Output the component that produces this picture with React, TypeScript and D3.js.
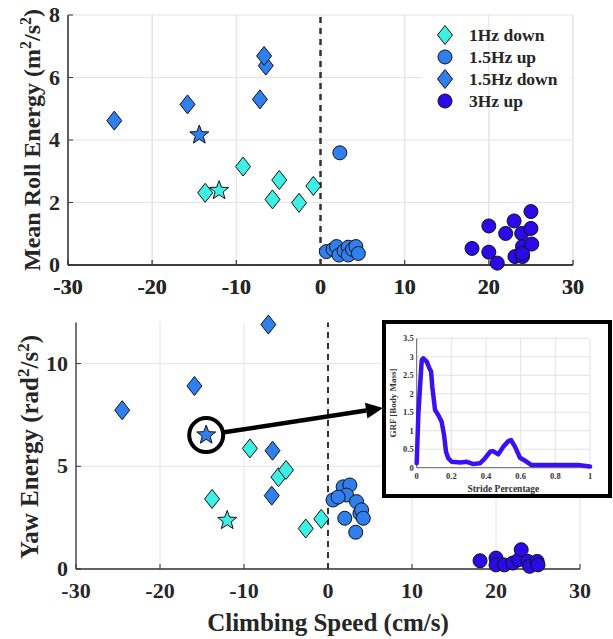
import React from 'react'
import * as d3 from 'd3'

// climbing speed ticks and energy ticks
const xTicks = [-30, -20, -10, 0, 10, 20, 30]
const rollTicks = [0, 2, 4, 6, 8]
const yawTicks = [0, 5, 10]
const grfXTicks = [0, 0.2, 0.4, 0.6, 0.8, 1]
const grfYTicks = [0, 0.5, 1, 1.5, 2, 2.5, 3, 3.5]

const legendLabels = ['1Hz down', '1.5Hz up', '1.5Hz down', '3Hz up']

// mean roll energy (top)
const roll1HzDown = [[-13.7, 2.31], [-9.2, 3.15], [-4.9, 2.72], [-5.7, 2.1], [-2.55, 1.99], [-0.85, 2.53]]
const roll1HzDownStar = [-12.05, 2.38]
const roll15Up = [[2.3, 3.59], [0.7, 0.43], [1.5, 0.5], [1.9, 0.59], [2.2, 0.32], [2.8, 0.45], [3.3, 0.57], [3.3, 0.32], [3.8, 0.5], [4.2, 0.59], [4.5, 0.37]]
const roll15Down = [[-24.5, 4.62], [-15.8, 5.14], [-6.5, 6.38], [-6.7, 6.69], [-7.2, 5.3]]
const roll15DownStar = [-14.4, 4.16]
const roll3Up = [[18.0, 0.53], [20.0, 1.25], [20.0, 0.41], [21.0, 0.06], [22.0, 1.01], [23.0, 1.41], [23.9, 1.01], [23.1, 0.27], [24.0, 0.59], [24.0, 0.27], [24.0, 0.37], [25.0, 1.71], [25.0, 1.17], [25.1, 0.67]]

// yaw energy (bottom)
const yaw1HzDown = [[-9.3, 5.87], [-5.9, 4.47], [-5.0, 4.82], [-13.8, 3.41], [-2.65, 1.97], [-0.8, 2.44]]
const yaw1HzDownStar = [-12.0, 2.36]
const yaw15Up = [[1.8, 4.0], [2.6, 4.09], [0.6, 3.36], [2.2, 3.6], [3.4, 3.28], [3.8, 2.7], [4.0, 2.88], [4.2, 2.47], [2.0, 2.47], [3.3, 1.79], [1.2, 3.5]]
const yaw15Down = [[-24.5, 7.73], [-15.9, 8.91], [-7.1, 11.9], [-6.6, 5.76], [-6.7, 3.57]]
const yaw15DownStar = [-14.5, 6.52]
const yaw3Up = [[18.1, 0.4], [20.0, 0.53], [20.0, 0.2], [21.0, 0.2], [22.0, 0.29], [22.7, 0.45], [23.0, 0.94], [23.8, 0.37], [24.0, 0.13], [24.9, 0.37], [25.0, 0.2]]

// inset: ground reaction force over one stride
const grfX = [0, 0.01, 0.029, 0.038, 0.058, 0.073, 0.083, 0.09, 0.106, 0.125, 0.144, 0.158, 0.169, 0.183, 0.202, 0.25, 0.29, 0.327, 0.365, 0.394, 0.423, 0.44, 0.471, 0.5, 0.529, 0.544, 0.567, 0.596, 0.635, 0.663, 0.75, 0.94, 1.0]
const grfY = [0.12, 1.5, 2.91, 2.96, 2.87, 2.69, 2.6, 2.19, 1.56, 1.42, 1.24, 0.88, 0.43, 0.25, 0.16, 0.14, 0.16, 0.1, 0.12, 0.25, 0.43, 0.45, 0.36, 0.57, 0.72, 0.75, 0.57, 0.27, 0.16, 0.07, 0.07, 0.07, 0.03]

const cCyan = '#3cf0e6'
const cBlue = '#2f80ee'
const cPurple = '#2a0ae8'
const font = '"Liberation Serif", "Times New Roman", serif'

const diamond = (x, y) => `M${x},${y - 9.5}L${x + 7.5},${y}L${x},${y + 9.5}L${x - 7.5},${y}Z`
const star = (x, y) => {
  const pts = d3.range(10).map(i => {
    const r = i % 2 === 0 ? 10 : 4.2
    const a = -Math.PI / 2 + (i * Math.PI) / 5
    return [x + r * Math.cos(a), y + r * Math.sin(a)]
  })
  return 'M' + pts.map(p => p.join(',')).join('L') + 'Z'
}

const Marker = ({ kind, x, y, fill }) => {
  if (kind === 'circle') return <circle cx={x} cy={y} r={7} fill={fill} stroke="#111" strokeWidth={1} />
  if (kind === 'star') return <path d={star(x, y)} fill={fill} stroke="#111" strokeWidth={1} />
  return <path d={diamond(x, y)} fill={fill} stroke="#111" strokeWidth={1} />
}

const Panel = ({ x, y, yTicks, series, label }) => {
  const [x0, x1] = x.range()
  const [y0, y1] = y.range()
  return (
    <g>
      {xTicks.map(t => (
        <line key={'gx' + t} x1={x(t)} x2={x(t)} y1={y0} y2={y1} stroke="#e4e4e4" strokeWidth={1} />
      ))}
      {yTicks.map(t => (
        <line key={'gy' + t} x1={x0} x2={x1} y1={y(t)} y2={y(t)} stroke="#e4e4e4" strokeWidth={1} />
      ))}
      <line x1={x(0)} x2={x(0)} y1={y0} y2={y1} stroke="#333" strokeWidth={2} strokeDasharray="6,5" />
      <line x1={x0} x2={x1} y1={y0} y2={y0} stroke="#333" strokeWidth={1.3} />
      <line x1={x0} x2={x0} y1={y0} y2={y1} stroke="#333" strokeWidth={1.3} />
      {xTicks.map(t => (
        <g key={'tx' + t}>
          <line x1={x(t)} x2={x(t)} y1={y0} y2={y0 - 5} stroke="#333" />
          <text x={x(t)} y={y0 + 29} textAnchor="middle" fontSize={22} fontWeight="bold" fill="#262626">{t}</text>
        </g>
      ))}
      {yTicks.map(t => (
        <g key={'ty' + t}>
          <line x1={x0} x2={x0 + 5} y1={y(t)} y2={y(t)} stroke="#333" />
          <text x={x0 - 8} y={y(t) + 7} textAnchor="end" fontSize={22} fontWeight="bold" fill="#262626">{t}</text>
        </g>
      ))}
      {label}
      {series.map((s, si) =>
        s.data.map((d, i) => <Marker key={si + '-' + i} kind={s.kind} x={x(d[0])} y={y(d[1])} fill={s.fill} />)
      )}
    </g>
  )
}

export default function App() {
  const xTop = d3.scaleLinear().domain([-30, 30]).range([68, 573])
  const yTop = d3.scaleLinear().domain([0, 8]).range([265, 15])
  const xBot = d3.scaleLinear().domain([-30, 30]).range([76, 580])
  const yBot = d3.scaleLinear().domain([0, 12]).range([569, 322.5])

  const topSeries = [
    { data: roll1HzDown, kind: 'diamond', fill: cCyan },
    { data: roll15Up, kind: 'circle', fill: cBlue },
    { data: roll15Down, kind: 'diamond', fill: cBlue },
    { data: roll3Up, kind: 'circle', fill: cPurple },
    { data: [roll15DownStar], kind: 'star', fill: cBlue },
    { data: [roll1HzDownStar], kind: 'star', fill: cCyan },
  ]
  const botSeries = [
    { data: yaw1HzDown, kind: 'diamond', fill: cCyan },
    { data: yaw15Up, kind: 'circle', fill: cBlue },
    { data: yaw15Down, kind: 'diamond', fill: cBlue },
    { data: yaw3Up, kind: 'circle', fill: cPurple },
    { data: [yaw15DownStar], kind: 'star', fill: cBlue },
    { data: [yaw1HzDownStar], kind: 'star', fill: cCyan },
  ]
  const legendKinds = ['diamond', 'circle', 'diamond', 'circle']
  const legendFills = [cCyan, cBlue, cBlue, cPurple]

  // inset geometry
  const box = { x: 384, y: 322, w: 226, h: 174 }
  const gx = d3.scaleLinear().domain([0, 1]).range([416.7, 590])
  const gy = d3.scaleLinear().domain([0, 3.5]).range([467.7, 338.3])
  const grfLine = d3.line().x(i => gx(grfX[i])).y(i => gy(grfY[i])).curve(d3.curveLinear)

  // circled point and arrow
  const cx = xBot(yaw15DownStar[0])
  const cy = yBot(yaw15DownStar[1])
  const tip = [box.x - 1, 408]
  const ang = Math.atan2(tip[1] - cy, tip[0] - cx)
  const start = [cx + 18 * Math.cos(ang), cy + 18 * Math.sin(ang)]
  const headLen = 17
  const headW = 8
  const base = [tip[0] - headLen * Math.cos(ang), tip[1] - headLen * Math.sin(ang)]
  const head = [
    tip,
    [base[0] + headW * Math.sin(ang), base[1] - headW * Math.cos(ang)],
    [base[0] - headW * Math.sin(ang), base[1] + headW * Math.cos(ang)],
  ]

  return (
    <svg width={613} height={639} style={{ position: 'absolute', left: 0, top: 0, background: '#fff' }} fontFamily={font}>
      <Panel
        x={xTop}
        y={yTop}
        yTicks={rollTicks}
        series={[]}
        label={
          <text transform="translate(40,140) rotate(-90)" textAnchor="middle" fontSize={24} fontWeight="bold" fill="#262626">
            Mean Roll Energy (m<tspan fontSize={16} dy={-9}>2</tspan><tspan dy={9}>/s</tspan><tspan fontSize={16} dy={-9}>2</tspan><tspan dy={9}>)</tspan>
          </text>
        }
      />
      {/* legend background hides grid */}
      <rect x={422} y={16} width={148} height={94} fill="#fff" />
      <Panel x={xTop} y={yTop} yTicks={[]} series={topSeries} label={null} />
      {legendLabels.map((l, i) => (
        <g key={l}>
          <Marker kind={legendKinds[i]} x={445} y={35 + i * 22} fill={legendFills[i]} />
          <text x={469} y={41 + i * 22} fontSize={17.5} fontWeight="bold" fill="#262626">{l}</text>
        </g>
      ))}

      <Panel
        x={xBot}
        y={yBot}
        yTicks={yawTicks}
        series={botSeries}
        label={
          <g>
            <text transform="translate(38,447) rotate(-90)" textAnchor="middle" fontSize={25} fontWeight="bold" fill="#262626">
              Yaw Energy (rad<tspan fontSize={17} dy={-9}>2</tspan><tspan dy={9}>/s</tspan><tspan fontSize={17} dy={-9}>2</tspan><tspan dy={9}>)</tspan>
            </text>
            <text x={xBot(0)} y={631} textAnchor="middle" fontSize={25} fontWeight="bold" fill="#262626">Climbing Speed (cm/s)</text>
          </g>
        }
      />

      {/* annotation */}
      <circle cx={cx} cy={cy} r={17} fill="none" stroke="#000" strokeWidth={4} />
      <line x1={start[0]} y1={start[1]} x2={base[0]} y2={base[1]} stroke="#000" strokeWidth={4.5} />
      <path d={'M' + head.map(p => p.join(',')).join('L') + 'Z'} fill="#000" />

      {/* inset */}
      <rect x={box.x} y={box.y} width={box.w} height={box.h} fill="#fff" stroke="#000" strokeWidth={4} />
      {grfXTicks.map(t => (
        <line key={'igx' + t} x1={gx(t)} x2={gx(t)} y1={gy(0)} y2={gy(3.5)} stroke="#e2e2e2" />
      ))}
      {grfYTicks.map(t => (
        <line key={'igy' + t} x1={gx(0)} x2={gx(1)} y1={gy(t)} y2={gy(t)} stroke="#e2e2e2" />
      ))}
      <line x1={gx(0)} x2={gx(1)} y1={gy(0)} y2={gy(0)} stroke="#444" strokeWidth={0.8} />
      <line x1={gx(0)} x2={gx(0)} y1={gy(0)} y2={gy(3.5)} stroke="#444" strokeWidth={0.8} />
      {grfXTicks.map(t => (
        <text key={'itx' + t} x={gx(t)} y={gy(0) + 11} textAnchor="middle" fontSize={8.5} fontWeight="bold" fill="#333">{t}</text>
      ))}
      {grfYTicks.map(t => (
        <text key={'ity' + t} x={gx(0) - 3} y={gy(t) + 3} textAnchor="end" fontSize={8.5} fontWeight="bold" fill="#333">{t}</text>
      ))}
      <text x={(gx(0) + gx(1)) / 2} y={492} textAnchor="middle" fontSize={9.5} fontWeight="bold" fill="#333">Stride Percentage</text>
      <text transform={`translate(396,${(gy(0) + gy(3.5)) / 2}) rotate(-90)`} textAnchor="middle" fontSize={9} fontWeight="bold" fill="#333">GRF [Body Mass]</text>
      <path d={grfLine(d3.range(grfX.length))} fill="none" stroke="#3a10f5" strokeWidth={4.5} strokeLinejoin="round" strokeLinecap="round" />
    </svg>
  )
}
